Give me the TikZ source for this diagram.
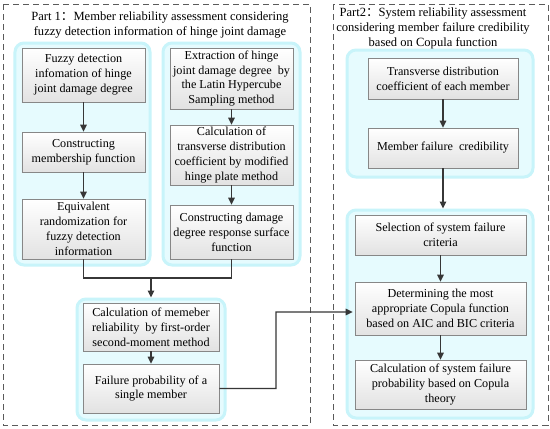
\documentclass[tikz,border=0pt]{standalone}
\usepackage{fontspec}
\setmainfont{Liberation Serif}
\newfontfamily\cjk{Noto Sans CJK SC}
\usetikzlibrary{arrows.meta,positioning}
\definecolor{glowedge}{RGB}{200,244,250}
\definecolor{glowfill}{RGB}{230,251,254}
\definecolor{boxline}{RGB}{135,135,135}
\definecolor{boxbot}{RGB}{226,226,226}
\definecolor{arrowc}{RGB}{55,55,55}
\definecolor{dashc}{RGB}{90,90,90}
\tikzset{
  grp/.style={draw=glowedge,line width=3bp,fill=glowfill,rounded corners=9bp,inner sep=0pt},
  stepbox/.style={draw=boxline,line width=0.6bp,top color=white,bottom color=boxbot,
    align=center,inner sep=1bp,font=\fontsize{12.2}{15}\selectfont},
  part/.style={draw=dashc,line width=0.9bp,dash pattern=on 6bp off 4bp},
  arr/.style={draw=arrowc,line width=1.3bp,-{Triangle[length=7bp,width=6.5bp]}},
  ln/.style={draw=arrowc,line width=1.3bp},
  ttl/.style={align=center,font=\fontsize{12.6}{15.5}\selectfont,inner sep=0pt}
}
\newcommand{\fwc}{{\cjk ：}}
\begin{document}
\begin{tikzpicture}[x=1bp,y=-1bp]
\useasboundingbox (0,0) rectangle (550,428);
\fill[white] (0,0) rectangle (550,428);
% dashed parts
\draw[part] (3,4) rectangle (310,425);
\draw[part] (333,4) rectangle (548,425);
\node[ttl] (t1) at (160,25) {Part 1\fwc Member reliability assessment considering\\fuzzy detection information of hinge joint damage};
\node[ttl] (t2) at (433,28.5) {Part2\fwc System reliability assessment\\considering member failure credibility\\based on Copula function};
% groups
\node[grp,minimum width=135bp,minimum height=222bp] (g1) at (82.5,154) {};
\node[grp,minimum width=137bp,minimum height=222bp] (g2) at (231.5,154) {};
\node[grp,minimum width=148bp,minimum height=121bp] (g3) at (151,359.5) {};
\node[grp,minimum width=186bp,minimum height=127bp] (g4) at (440,113.5) {};
\node[grp,minimum width=186bp,minimum height=208bp] (g5) at (440,314) {};
% boxes
\node[stepbox,minimum width=123bp,minimum height=54bp] (b1) at (83.5,75) {Fuzzy detection\\infomation of hinge\\joint damage degree};
\node[stepbox,minimum width=123bp,minimum height=40bp] (b2) at (83.5,152) {Constructing\\membership function};
\node[stepbox,minimum width=123bp,minimum height=60bp] (b3) at (83.5,229) {Equivalent\\randomization for\\fuzzy detection\\information};
\node[stepbox,minimum width=123bp,minimum height=61bp] (b4) at (231.5,78.5) {Extraction of hinge\\joint damage degree~~by\\the Latin Hypercube\\Sampling method};
\node[stepbox,minimum width=123bp,minimum height=60bp] (b5) at (231.5,155) {Calculation of\\transverse distribution\\coefficient by modified\\hinge plate method};
\node[stepbox,minimum width=123bp,minimum height=54bp] (b6) at (231.5,232) {Constructing damage\\degree response surface\\function};
\node[stepbox,minimum width=136bp,minimum height=48bp] (b7) at (151,327) {Calculation of memeber\\reliability~~by first-order\\second-moment method};
\node[stepbox,minimum width=136bp,minimum height=49bp] (b8) at (151,388.5) {Failure probability of a\\single member};
\node[stepbox,minimum width=150bp,minimum height=41bp] (b9) at (443,78.5) {Transverse distribution\\coefficient of each member};
\node[stepbox,minimum width=150bp,minimum height=40bp] (b10) at (443,148) {Member failure~~credibility};
\node[stepbox,minimum width=171bp,minimum height=40bp] (b11) at (440.5,235) {Selection of system failure\\criteria};
\node[stepbox,minimum width=171bp,minimum height=53bp] (b12) at (440.5,308.5) {Determining the most\\appropriate Copula function\\based on AIC and BIC criteria};
\node[stepbox,minimum width=171bp,minimum height=49bp] (b13) at (440.5,384.5) {Calculation of system failure\\probability based on Copula\\theory};
% connectors
\draw[arr] (b1) -- (b2);
\draw[arr] (b2) -- (b3);
\draw[arr] (b4) -- (b5);
\draw[arr] (b5) -- (b6);
\coordinate (m) at (151,278);
\draw[ln] (b3.south) |- (m) -| (b6.south);
\draw[arr] (m) -- (g3.north);
\draw[arr] (b7) -- (b8);
\coordinate (k) at (276,312);
\draw[arr] (b8.east) -| (k) -- ([yshift=-3.5bp,xshift=-2bp]b12.west);
\draw[arr] (b9) -- (b10);
\draw[arr] (b10.south) -- (b10.south |- g5.north);
\draw[arr] (b11) -- (b12);
\draw[arr] (b12) -- (b13);
\end{tikzpicture}
\end{document}
